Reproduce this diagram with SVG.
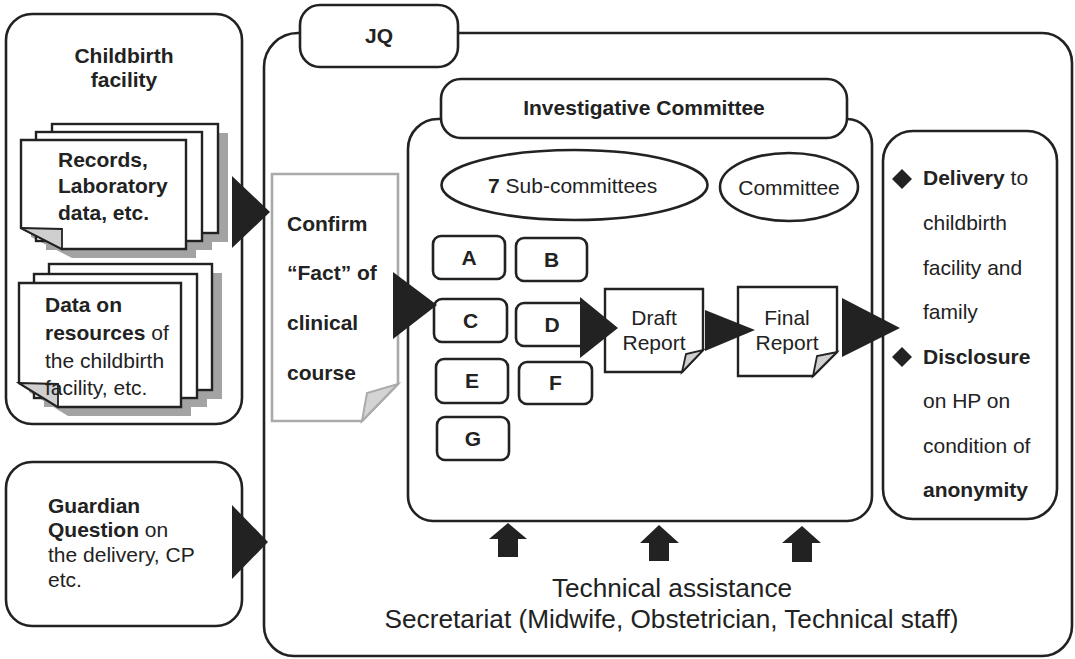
<svg xmlns="http://www.w3.org/2000/svg" width="1075" height="659" viewBox="0 0 1075 659">
<style>
.ln{fill:#fff;stroke:#222;stroke-width:2.6}
.fr{fill:none;stroke:#222;stroke-width:2.6}
.pg{fill:#fff;stroke:#222;stroke-width:2.4}
.sh{fill:#a3a3a3}
.fold{fill:#cfcfcf;stroke:#222;stroke-width:1.8}
.gdoc{fill:#fff;stroke:#aaa;stroke-width:2.6}
.gfold{fill:#d4d4d4;stroke:#aaa;stroke-width:2}
.ar{fill:#222}
text{font-family:"Liberation Sans",Arial,Helvetica,sans-serif;font-size:21px;fill:#222}
.b{font-weight:bold}
.c{text-anchor:middle}
.big{font-size:26.2px}
</style>

<g id="childbirth-facility">
<rect class="ln" x="6" y="14" width="236" height="410" rx="26"/>
<text class="b c" x="124" y="63">Childbirth</text>
<text class="b c" x="124" y="87">facility</text>
</g>

<g id="records-stack">
<rect class="sh" x="62" y="133" width="166" height="109"/>
<rect class="sh" x="46" y="141" width="166" height="109"/>
<path class="sh" d="M31 149 H196 V258 H72 L31 237 Z"/>
<rect class="pg" x="52" y="124" width="166" height="109"/>
<rect class="pg" x="36" y="132" width="166" height="109"/>
<path class="pg" d="M21 140 H186 V249 H62 L21 228 Z"/>
<path class="fold" d="M21 228 L62 229 L62 249 Z"/>
<text class="b" x="58" y="167">Records,</text>
<text class="b" x="58" y="193">Laboratory</text>
<text class="b" x="58" y="220">data, etc.</text>
</g>

<g id="resources-stack">
<rect class="sh" x="59" y="273" width="163" height="126"/>
<rect class="sh" x="44" y="283" width="163" height="124"/>
<path class="sh" d="M29 292 H191 V416 H68 L29 392 Z"/>
<rect class="pg" x="49" y="264" width="163" height="126"/>
<rect class="pg" x="34" y="274" width="163" height="124"/>
<path class="pg" d="M19 283 H181 V407 H58 L19 383 Z"/>
<path class="fold" d="M19 383 L58 384 L58 407 Z"/>
<text class="b" x="45" y="312">Data on</text>
<text x="45" y="340"><tspan class="b">resources</tspan> of</text>
<text x="45" y="368">the childbirth</text>
<text x="45" y="395">facility, etc.</text>
</g>

<g id="guardian">
<rect class="ln" x="6" y="462" width="236" height="164" rx="26"/>
<text class="b" x="48" y="513">Guardian</text>
<text x="48" y="537"><tspan class="b">Question</tspan> on</text>
<text x="48" y="562">the delivery, CP</text>
<text x="48" y="587">etc.</text>
</g>

<g id="jq">
<path class="fr" d="M300 33 H298 A34 34 0 0 0 264 67 V626 A30 30 0 0 0 294 656 H1042 A30 30 0 0 0 1072 626 V63 A30 30 0 0 0 1042 33 H458"/>
<rect class="ln" x="300" y="5" width="158" height="62" rx="20"/>
<text class="b c" x="379" y="43">JQ</text>
</g>

<g id="confirm-fact">
<path class="gdoc" d="M272 174 H398 V384 L362 421 H272 Z"/>
<path class="gfold" d="M362 421 L367 393 L398 384 Z"/>
<text class="b" x="287" y="231">Confirm</text>
<text class="b" x="287" y="280">“Fact” of</text>
<text class="b" x="287" y="330">clinical</text>
<text class="b" x="287" y="380">course</text>
</g>

<g id="investigative-committee">
<path class="fr" d="M441 119 H438 A30 30 0 0 0 408 149 V496 A25 25 0 0 0 433 521 H847 A25 25 0 0 0 872 496 V144 A25 25 0 0 0 847 119"/>
<rect class="ln" x="441" y="79" width="406" height="59" rx="20"/>
<text class="b c" x="644" y="115">Investigative Committee</text>
</g>

<g id="sub-committees">
<ellipse class="ln" cx="574.5" cy="185" rx="133" ry="35"/>
<text x="488" y="193"><tspan class="b">7</tspan> Sub-committees</text>
</g>

<g id="committee">
<ellipse class="ln" cx="789" cy="187" rx="69" ry="34"/>
<text class="c" x="789" y="195">Committee</text>
</g>

<g id="sub-a"><rect class="ln" x="433" y="236" width="72" height="43" rx="8"/><text class="b c" x="469" y="265">A</text></g>
<g id="sub-b"><rect class="ln" x="516" y="238" width="71" height="43" rx="8"/><text class="b c" x="551.5" y="267">B</text></g>
<g id="sub-c"><rect class="ln" x="434" y="299" width="73" height="43" rx="8"/><text class="b c" x="470.5" y="328">C</text></g>
<g id="sub-d"><rect class="ln" x="516" y="303" width="72" height="43" rx="8"/><text class="b c" x="552" y="332">D</text></g>
<g id="sub-e"><rect class="ln" x="436" y="359" width="72" height="44" rx="8"/><text class="b c" x="472" y="388">E</text></g>
<g id="sub-f"><rect class="ln" x="519" y="362" width="73" height="42" rx="8"/><text class="b c" x="555.5" y="390">F</text></g>
<g id="sub-g"><rect class="ln" x="437" y="417" width="72" height="43" rx="8"/><text class="b c" x="473" y="446">G</text></g>

<g id="draft-report">
<path class="pg" d="M605 289 H703 V350 L682 372 H605 Z"/>
<path class="fold" d="M682 372 L686 354 L703 350 Z"/>
<text class="c" x="654" y="325">Draft</text>
<text class="c" x="654" y="350">Report</text>
</g>

<g id="final-report">
<path class="pg" d="M738 287 H837 V352 L813 376 H738 Z"/>
<path class="fold" d="M813 376 L817 356 L837 352 Z"/>
<text class="c" x="787" y="325">Final</text>
<text class="c" x="787" y="350">Report</text>
</g>

<g id="outcome">
<rect class="ln" x="883" y="131" width="174" height="388" rx="30"/>
<path class="ar" d="M902 169 L912 179 L902 189 L892 179 Z"/>
<path class="ar" d="M902 347 L912 357 L902 367 L892 357 Z"/>
<text x="923" y="185"><tspan class="b">Delivery</tspan> to</text>
<text x="923" y="230">childbirth</text>
<text x="923" y="275">facility and</text>
<text x="923" y="319">family</text>
<text class="b" x="923" y="364">Disclosure</text>
<text x="923" y="408">on HP on</text>
<text x="923" y="453">condition of</text>
<text class="b" x="923" y="497">anonymity</text>
</g>

<g id="secretariat">
<text class="c big" x="672" y="597">Technical assistance</text>
<text class="c big" x="671.5" y="628">Secretariat (Midwife, Obstetrician, Technical staff)</text>
</g>

<g id="connectors">
<path class="ar" d="M232 176 L270 212 L232 248 Z"/>
<path class="ar" d="M232 505 L268 542 L232 579 Z"/>
<path class="ar" d="M393 272 L437 305 L393 339 Z"/>
<path class="ar" d="M580 297 L618 328 L580 358 Z"/>
<path class="ar" d="M705 310 L755 330 L705 351 Z"/>
<path class="ar" d="M842 298 L900 328 L842 357 Z"/>
<path class="ar" d="M508 523 L527 539 L518 539 L518 557 L498 557 L498 539 L489 539 Z"/>
<path class="ar" d="M659 525 L679 543 L669 543 L669 561 L649 561 L649 543 L640 543 Z"/>
<path class="ar" d="M802 526 L821 543 L812 543 L812 562 L792 562 L792 543 L782 543 Z"/>
</g>
</svg>
